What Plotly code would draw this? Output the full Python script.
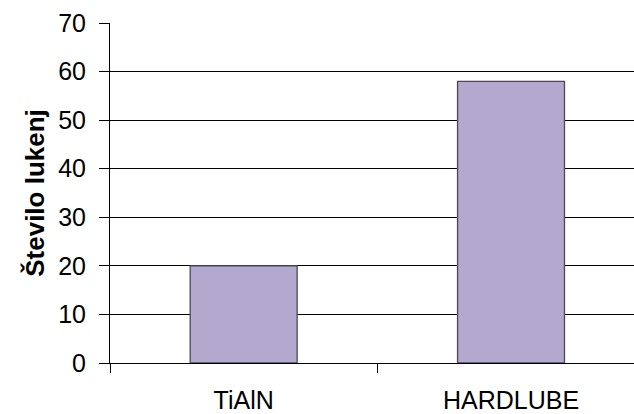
import plotly.graph_objects as go

categories = ["TiAlN", "HARDLUBE"]
values = [20, 58]
y_ticks = [0, 10, 20, 30, 40, 50, 60, 70]

fig = go.Figure()
fig.add_trace(go.Bar(
    x=categories, y=values, width=0.4,
    marker=dict(color="#B3A9CE", line=dict(color="#4A4858", width=1.3)),
))

font = "Liberation Sans, Arial, sans-serif"
fig.update_layout(
    width=634, height=414,
    margin=dict(l=110, r=0, t=23, b=51),
    plot_bgcolor="white", paper_bgcolor="white",
    showlegend=False,
    font=dict(family=font, color="black"),
)
fig.update_xaxes(
    type="category", range=[-0.5, 1.46], automargin=False,
    tickson="boundaries", ticks="outside", ticklen=9, tickcolor="black",
    showline=True, linecolor="black", linewidth=1,
    showgrid=False, tickfont=dict(size=25, family=font),
    ticklabelstandoff=15,
)
fig.update_yaxes(
    range=[0, 70], tickvals=y_ticks, automargin=False,
    ticks="outside", ticklen=10, tickcolor="black",
    showline=True, linecolor="black", linewidth=1,
    showgrid=True, gridcolor="black", gridwidth=1,
    zeroline=False,
    tickfont=dict(size=25, family=font),
    ticklabelstandoff=8,
    title=dict(text="<b>Število lukenj</b>", font=dict(size=26, family=font), standoff=6),
)
fig.write_html("out.html")
